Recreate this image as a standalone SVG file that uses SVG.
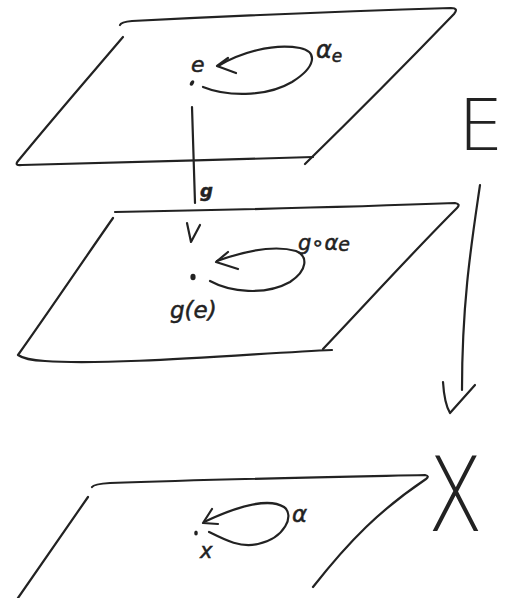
<svg xmlns="http://www.w3.org/2000/svg" width="513" height="598" viewBox="0 0 513 598">
<style>
.s{fill:none;stroke:#222;stroke-width:2.2;stroke-linecap:round;stroke-linejoin:round}
.t{font-family:"DejaVu Sans","Liberation Sans",sans-serif;font-style:italic;fill:#222;stroke:#222;stroke-width:0.5}
.big{font-family:"DejaVu Sans","Liberation Sans",sans-serif;fill:#222;font-weight:300}
</style>
<rect width="513" height="598" fill="#fff"/>
<g id="plane-E-top">
<path class="s" d="M120,25 Q121,22 132,21 C230,16 350,11 451,8 Q459,8 454,14 C400,70 350,120 305,164"/>
<path class="s" d="M313,157 C220,160 100,163 22,165 Q14,166 18,161 C60,110 95,70 123,37"/>
<ellipse cx="192" cy="83" rx="1.8" ry="3" transform="rotate(30 192 83)" fill="#222"/>
<text class="t" x="191" y="72" font-size="22">e</text>
<path class="s" d="M203,87 C225,96 265,98 292,82 C316,67 318,52 300,48 C272,43 240,53 218,66"/>
<path class="s" d="M228,58 L217,66 L236,73"/>
<text class="t" x="316" y="58" font-size="24">α<tspan font-size="17" dy="4">e</tspan></text>
</g>
<g id="plane-E-mid">
<path class="s" d="M115,212 C220,210 350,207 455,203 Q461,204 457,208 C410,255 365,305 323,349"/>
<path class="s" d="M332,350 C260,353 110,366 45,361 Q25,360 18,355 C50,310 85,258 113,218"/>
<ellipse cx="193" cy="277" rx="2.6" ry="3.2" fill="#222"/>
<text class="t" x="170" y="318" font-size="23">g(e)</text>
<path class="s" d="M210,281 C230,292 265,296 290,282 C308,270 308,256 296,251 C275,245 245,251 217,261"/>
<path class="s" d="M228,252 L216,262 L238,269"/>
<text class="t" x="298" y="250" font-size="21">g∘α<tspan font-size="19" dy="1">e</tspan></text>
</g>
<g id="plane-X">
<path class="s" d="M92,487 Q94,484 110,483 C220,479 330,477 425,475 Q430,476 426,479 C380,510 350,540 313,587"/>
<path class="s" d="M88,497 L18,598"/>
<ellipse cx="196" cy="533" rx="1.8" ry="2.6" fill="#222"/>
<text class="t" x="200" y="558" font-size="21">x</text>
<path class="s" d="M209,532 C225,540 240,548 258,544 C285,538 295,515 284,507 C270,498 240,505 204,522"/>
<path class="s" d="M212,509 L203,523 L218,524"/>
<text class="t" x="292" y="522" font-size="23">α</text>
</g>
<g id="label-E">
<text class="big" x="458" y="150" font-size="72">E</text>
</g>
<g id="label-X">
<text class="big" transform="translate(428,531) scale(1,1.3)" font-size="80">X</text>
</g>
<g id="connectors">
<path class="s" d="M192,107 L195,203"/>
<path class="s" d="M187,223 L191,242 L200,225"/>
<text class="t" x="200" y="197" font-size="18" font-weight="bold">g</text>
<path class="s" d="M480,185 C472,240 462,300 462,390"/>
<path class="s" d="M443,382 C444,398 447,408 450,413 L475,385"/>
</g>
</svg>
